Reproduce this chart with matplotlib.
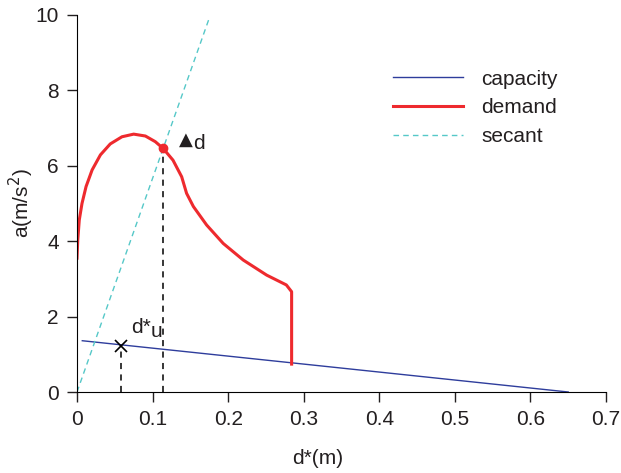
import matplotlib
matplotlib.use("Agg")
import matplotlib.pyplot as plt

plt.rcParams['font.family'] = ['Liberation Sans', 'DejaVu Sans']

# capacity line
cap_d = [0.007, 0.65]
cap_a = [1.36, 0.0]

# demand curve
dem_d = [0.0, 0.001, 0.003, 0.0066, 0.012, 0.020, 0.031, 0.044, 0.0595, 0.075,
         0.0905, 0.1036, 0.114, 0.127, 0.1385, 0.145, 0.154, 0.1715, 0.1935,
         0.220, 0.251, 0.277, 0.284, 0.284]
dem_a = [3.55, 4.03, 4.56, 5.00, 5.45, 5.89, 6.29, 6.58, 6.77, 6.84,
         6.79, 6.64, 6.46, 6.15, 5.71, 5.27, 4.92, 4.43, 3.94,
         3.50, 3.10, 2.84, 2.66, 0.74]

# performance point and secant through origin
perf_d, perf_a = 0.114, 6.46
sec_end = 0.175
sec_d = [0.0, sec_end]
sec_a = [0.0, sec_end * perf_a / perf_d]

# d*u point
du_d, du_a = 0.058, 1.23

xticks = [0, 0.1, 0.2, 0.3, 0.4, 0.5, 0.6, 0.7]
xticklabels = ['0', '0.1', '0.2', '0.3', '0.4', '0.5', '0.6', '0.7']
yticks = [0, 2, 4, 6, 8, 10]

TXT = '#231f20'
fig = plt.figure(figsize=(6.21, 4.73), dpi=100)
ax = fig.add_axes([77 / 621, 1 - 392 / 473, 529 / 621, 377 / 473])

ax.plot(cap_d, cap_a, color='#2e3d9c', lw=1.0, label='capacity')
ax.plot(dem_d, dem_a, color='#ee2a2e', lw=2.2, label='demand',
        solid_joinstyle='round')
ax.plot(sec_d, sec_a, color='#55c8c8', lw=1.0, ls=(0, (4, 3)), label='secant')

ax.plot([du_d, du_d], [0, du_a], color='black', lw=1.1, ls=(0, (4, 3.5)))
ax.plot([perf_d, perf_d], [0, perf_a], color='black', lw=1.1, ls=(0, (4, 3.5)))
ax.plot([du_d], [du_a], marker='x', color='black', ms=8, mew=1.2)
ax.plot([perf_d], [perf_a], marker='o', color='#ee2a2e', ms=6)

# annotations
ax.text(0.0715, 1.57, 'd*', fontsize=15, color=TXT, va='baseline')
ax.text(0.0975, 1.45, 'u', fontsize=15, color=TXT, va='baseline')
ax.text(0.1345, 6.55, '▲', fontsize=13, color=TXT, family=['DejaVu Sans'], va='baseline')
ax.text(0.1535, 6.44, 'd', fontsize=15, color=TXT, va='baseline')

ax.set_xlim(0, 0.7)
ax.set_ylim(0, 10)
ax.set_xticks(xticks)
ax.set_xticklabels(xticklabels)
ax.set_yticks(yticks)
for s in ['top', 'right']:
    ax.spines[s].set_visible(False)
ax.tick_params(direction='out', length=7.2, width=1, labelsize=15, colors=TXT, pad=6)

fig.text(317.5 / 621, 1 - 458 / 473, 'd*(m)', fontsize=15, color=TXT,
         ha='center', va='center')
fig.text(21 / 621, 1 - 203 / 473, 'a(m/s$^2$)', fontsize=15, color=TXT,
         ha='center', va='center', rotation=90)

leg = ax.legend(loc='upper left', bbox_to_anchor=(0.5625, 0.905), frameon=False,
                fontsize=15, handlelength=3.36, handletextpad=0.87,
                labelspacing=0.47, borderaxespad=0.5)
for t in leg.get_texts():
    t.set_color(TXT)

fig.savefig('out.png', dpi=100)
